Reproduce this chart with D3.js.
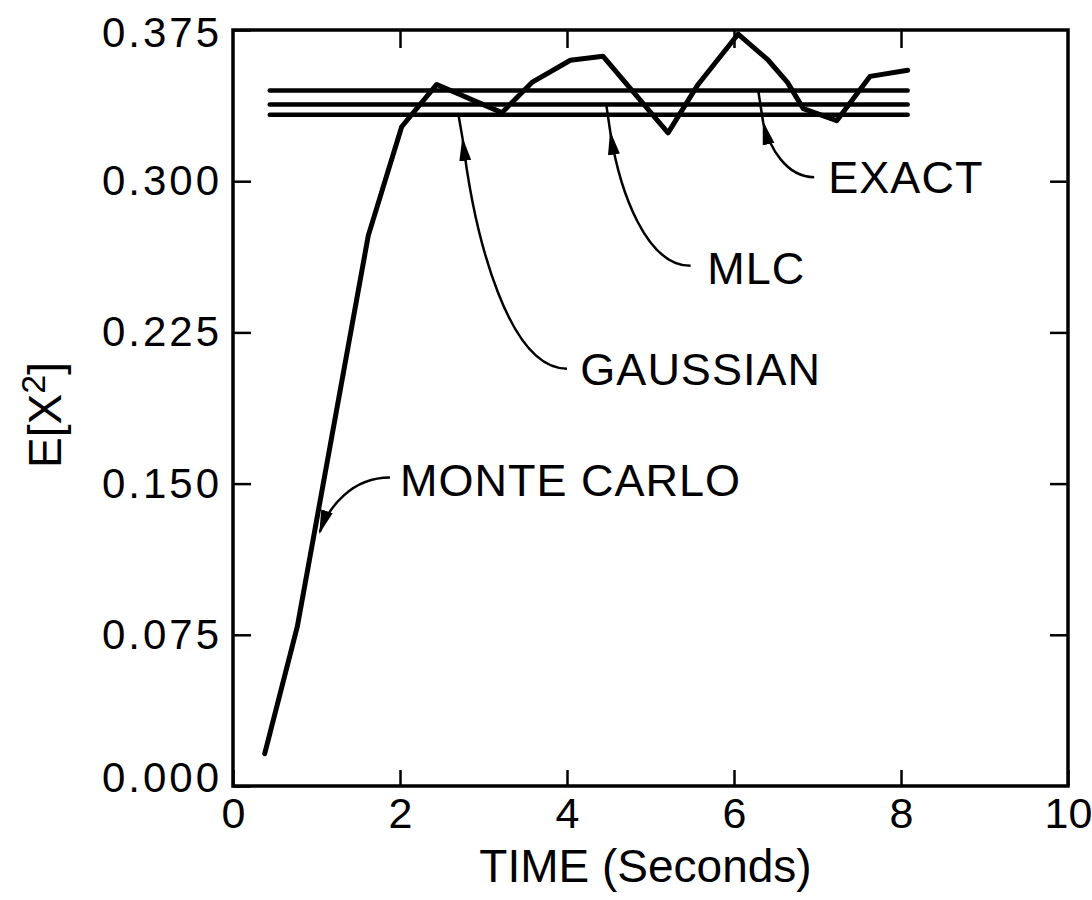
<!DOCTYPE html>
<html>
<head>
<meta charset="utf-8">
<script src="https://cdn.jsdelivr.net/npm/d3@7"></script>
<style>
  html, body { margin: 0; padding: 0; background: #fff; }
  svg { display: block; font-family: "Liberation Sans", Arial, sans-serif; }
</style>
</head>
<body>
<script>
// Monte Carlo run
const mcTime = [0.38, 0.77, 1.62, 2.02, 2.44, 3.22, 3.58, 4.04, 4.43, 5.21, 5.57, 6.05, 6.41, 6.64, 6.83, 7.23, 7.63, 8.08];
const mcValue = [0.016, 0.079, 0.273, 0.327, 0.348, 0.334, 0.349, 0.360, 0.362, 0.324, 0.348, 0.373, 0.360, 0.349, 0.336, 0.330, 0.352, 0.355];

// steady-state levels
const methodNames = ["EXACT", "MLC", "GAUSSIAN"];
const methodValues = [0.345, 0.338, 0.333];
const methodSpan = [0.44, 8.08];

// annotation labels, in data units
const labelNames = ["EXACT", "MLC", "GAUSSIAN", "MONTE CARLO"];
const labelAt = [[7.13, 0.302], [5.68, 0.257], [4.16, 0.207], [2.0, 0.152]];
const arrowFrom = [[6.96, 0.302], [5.48, 0.258], [4.0, 0.207], [1.88, 0.153]];
const arrowHead = [[6.35, 0.329], [4.52, 0.324], [2.75, 0.321], [1.04, 0.126]];
const arrowTo = [[6.29, 0.345], [4.47, 0.338], [2.70, 0.333], null];

const xTicks = [0, 2, 4, 6, 8, 10];
const yTicks = [0, 0.075, 0.15, 0.225, 0.3, 0.375];

const W = 1092, H = 900;
const frame = { left: 233, right: 1068, top: 30, bottom: 786 };

const svg = d3.select("body").append("svg").attr("width", W).attr("height", H);
svg.append("rect").attr("width", W).attr("height", H).attr("fill", "#fff");

const x = d3.scaleLinear().domain([0, 10]).range([frame.left, frame.right]);
const y = d3.scaleLinear().domain([0, 0.375]).range([frame.bottom, frame.top]);

// arrow head
svg.append("defs").append("marker")
  .attr("id", "head")
  .attr("markerUnits", "userSpaceOnUse")
  .attr("viewBox", "0 -7 24 14")
  .attr("refX", 22).attr("refY", 0)
  .attr("markerWidth", 24).attr("markerHeight", 14)
  .attr("orient", "auto")
  .append("path").attr("d", "M0,-6L24,0L0,6Z").attr("fill", "#000");

// axes (ticks point inward, no labels on top/right)
const tickLen = 18;
const bottom = svg.append("g").attr("transform", `translate(0,${frame.bottom})`)
  .call(d3.axisBottom(x).tickValues(xTicks).tickSize(-16).tickPadding(11).tickFormat(d3.format("d")));
const left = svg.append("g").attr("transform", `translate(${frame.left},0)`)
  .call(d3.axisLeft(y).tickValues(yTicks).tickSize(-tickLen).tickPadding(11).tickFormat(d3.format(".3f")));
svg.append("g").attr("transform", `translate(0,${frame.top})`)
  .call(d3.axisTop(x).tickValues(xTicks.slice(1, -1)).tickSize(-tickLen).tickFormat(""));
svg.append("g").attr("transform", `translate(${frame.right},0)`)
  .call(d3.axisRight(y).tickValues(yTicks.slice(1, -1)).tickSize(-tickLen).tickFormat(""));

svg.selectAll(".domain").remove();
svg.selectAll(".tick line").attr("stroke", "#000").attr("stroke-width", 2.5);
svg.selectAll(".tick text").attr("fill", "#000");

bottom.selectAll("text").attr("font-size", 43).attr("font-family", "Liberation Sans, Arial, sans-serif");
left.selectAll("text").attr("font-size", 42).attr("letter-spacing", 3)
  .attr("font-family", "Liberation Sans, Arial, sans-serif")
  .attr("dy", (d) => (d === 0 ? "0.12em" : d === 0.375 ? "0.4em" : "0.32em"));

// frame
svg.append("rect")
  .attr("x", frame.left).attr("y", frame.top)
  .attr("width", frame.right - frame.left).attr("height", frame.bottom - frame.top)
  .attr("fill", "none").attr("stroke", "#000").attr("stroke-width", 3.5);

// steady-state lines
svg.selectAll(".level")
  .data(methodValues)
  .enter()
  .append("line")
  .attr("class", "level")
  .attr("x1", x(methodSpan[0])).attr("x2", x(methodSpan[1]))
  .attr("y1", (d) => y(d)).attr("y2", (d) => y(d))
  .attr("stroke", "#000").attr("stroke-width", 4.5).attr("stroke-linecap", "round");

// monte carlo curve
const line = d3.line().x((d, i) => x(mcTime[i])).y((d) => y(d));
svg.append("path")
  .datum(mcValue)
  .attr("fill", "none")
  .attr("stroke", "#000")
  .attr("stroke-width", 5)
  .attr("stroke-linejoin", "round")
  .attr("stroke-linecap", "round")
  .attr("d", line);

// annotations
labelNames.forEach((name, i) => {
  const sx = x(arrowFrom[i][0]), sy = y(arrowFrom[i][1]);
  const hx = x(arrowHead[i][0]), hy = y(arrowHead[i][1]);
  const c1 = [sx + (hx - sx) * 0.55, sy];
  const c2 = [hx + (sx - hx) * 0.12, hy + (sy - hy) * 0.45];
  svg.append("path")
    .attr("d", `M${sx},${sy}C${c1[0]},${c1[1]} ${c2[0]},${c2[1]} ${hx},${hy}`)
    .attr("fill", "none").attr("stroke", "#000").attr("stroke-width", 2.5)
    .attr("marker-end", "url(#head)");
  if (arrowTo[i]) {
    svg.append("line")
      .attr("x1", hx).attr("y1", hy)
      .attr("x2", x(arrowTo[i][0])).attr("y2", y(arrowTo[i][1]))
      .attr("stroke", "#000").attr("stroke-width", 2.5);
  }
  svg.append("text")
    .attr("x", x(labelAt[i][0])).attr("y", y(labelAt[i][1]))
    .attr("dy", "0.36em")
    .attr("font-size", 45)
    .attr("letter-spacing", 1)
    .text(name);
});

// axis titles
svg.append("text")
  .attr("x", (frame.left + frame.right) / 2 - 5).attr("y", 882)
  .attr("text-anchor", "middle")
  .attr("font-size", 46)
  .text("TIME (Seconds)");

const yTitle = svg.append("text")
  .attr("transform", "translate(61,415) rotate(-90)")
  .attr("text-anchor", "middle")
  .attr("font-size", 46);
yTitle.append("tspan").text("E[X");
yTitle.append("tspan").attr("font-size", 34).attr("dy", -16).text("2");
yTitle.append("tspan").attr("dy", 16).text("]");
</script>
</body>
</html>
